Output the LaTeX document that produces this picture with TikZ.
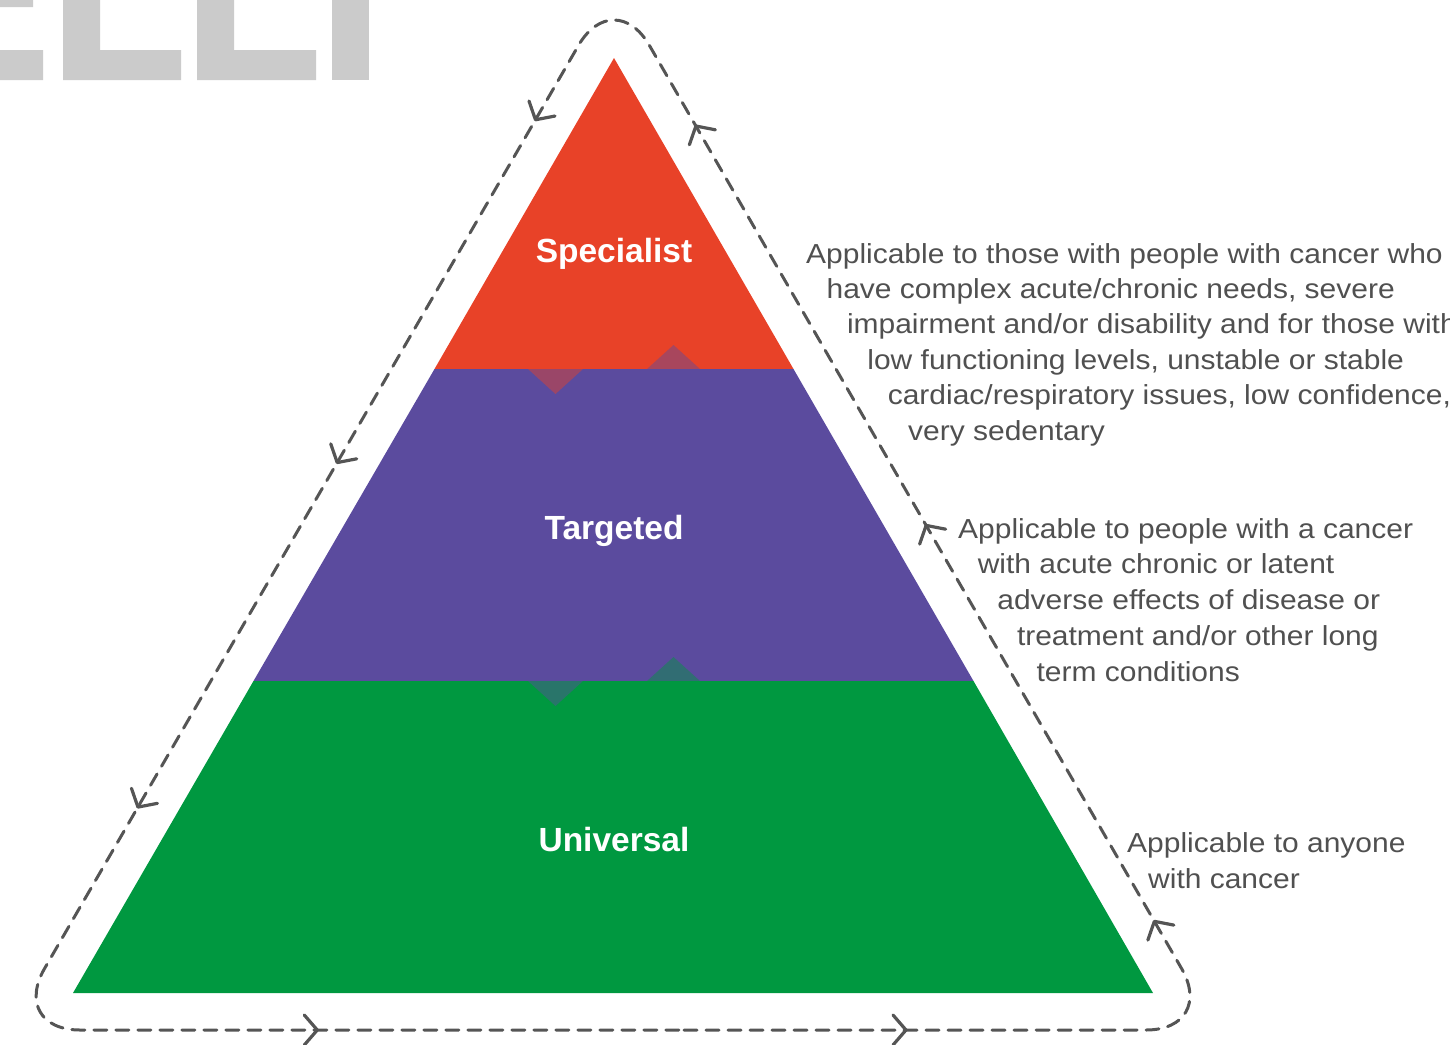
\documentclass[tikz,border=0pt]{standalone}
\usepackage{fontspec}
\setmainfont{Liberation Sans}
\newfontfamily\descfont[FakeStretch=1.09]{Liberation Sans}
\usetikzlibrary{decorations.markings}

\definecolor{specred}{RGB}{232,66,40}
\definecolor{targpurple}{RGB}{91,75,158}
\definecolor{univgreen}{RGB}{0,152,64}
\definecolor{textgray}{RGB}{80,80,80}
\definecolor{loopgray}{RGB}{85,85,85}
\definecolor{markgray}{RGB}{203,203,203}

\newcommand{\flowtip}{\draw[solid, sharp corners, line width=3.2pt] (-13pt,15pt) -- (0pt,0pt) -- (-13pt,-15pt);}

\tikzset{
	tier/.style={font=\fontsize{33.5}{40}\selectfont\bfseries, text=white, inner sep=0pt, anchor=base},
	desc/.style={font=\descfont\fontsize{27.5}{33}\selectfont, text=textgray, anchor=base west, inner sep=0pt},
	careloop/.style={draw=loopgray, line width=3pt, dash pattern=on 13pt off 9pt, rounded corners=71pt}
}

\begin{document}
\begin{tikzpicture}[line join=round, line cap=round, x=1pt, y=-1pt]
	\useasboundingbox (0,0) rectangle (1450,1044);

	% watermark letters
	\fill[markgray] (0,0) rectangle (33,7) (0,50) rectangle (43,80);
	\fill[markgray] (63,0) rectangle (100,80) (63,50) rectangle (181,80);
	\fill[markgray] (197,0) rectangle (234,80) (197,50) rectangle (316,80);
	\fill[markgray] (332,0) rectangle (369,80);

	% pyramid
	\fill[specred] (614,58) -- (793.5,369) -- (434.5,369) -- cycle;
	\fill[targpurple] (434.5,369) -- (793.5,369) -- (973.5,681) -- (253.5,681) -- cycle;
	\fill[univgreen] (253.5,681) -- (973.5,681) -- (1153,993) -- (73,993) -- cycle;
	\foreach \yb/\upper/\lower in {369/specred/targpurple, 681/targpurple/univgreen}{
		\fill[\upper, fill opacity=0.45] (528,\yb) -- (583,\yb) -- (555.5,\yb+25) -- cycle;
		\fill[\lower, fill opacity=0.45] (647,\yb) -- (700,\yb) -- (673.5,\yb-24) -- cycle;
	}

	\node[tier] (specialist) at (614,262) {Specialist};
	\node[tier] (targeted) at (614,539) {Targeted};
	\node[tier] (universal) at (614,851) {Universal};

	% dashed loop round the pyramid
	\draw[careloop, postaction={decorate}, decoration={markings,
		mark=at position 222pt with {\flowtip},
		mark=at position 608pt with {\flowtip},
		mark=at position 1065pt with {\flowtip},
		mark=at position 1526pt with {\flowtip},
		mark=at position 1796pt with {\flowtip},
		mark=at position 2192pt with {\flowtip},
		mark=at position 2590pt with {\flowtip},
		mark=at position 3105pt with {\flowtip}}]
		(613,1030) -- (1217,1030) -- (614,-16) -- (9,1030) -- cycle;

	% descriptions
	\foreach \txt [count=\i from 0] in {Applicable to those with people with cancer who,
		{have complex acute/chronic needs, severe},
		impairment and/or disability and for those with,
		{low functioning levels, unstable or stable},
		{cardiac/respiratory issues, low confidence,},
		very sedentary}
		\node[desc] (spec\i) at ({806+20.4*\i},{263+35.4*\i}) {\txt};
	\foreach \txt [count=\i from 0] in {Applicable to people with a cancer,
		with acute chronic or latent,
		adverse effects of disease or,
		treatment and/or other long,
		term conditions}
		\node[desc] (targ\i) at ({958+19.6*\i},{538+35.8*\i}) {\txt};
	\foreach \txt [count=\i from 0] in {Applicable to anyone, with cancer}
		\node[desc] (univ\i) at ({1127+21*\i},{852+36*\i}) {\txt};
\end{tikzpicture}
\end{document}
